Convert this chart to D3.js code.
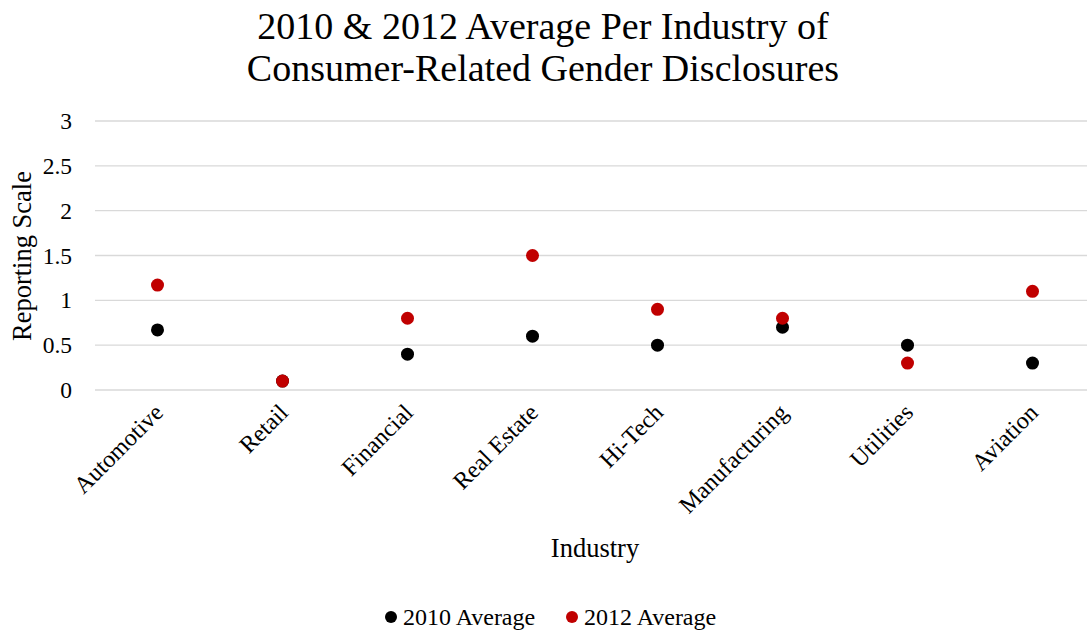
<!DOCTYPE html>
<html><head><meta charset="utf-8">
<script src="https://cdn.jsdelivr.net/npm/d3@7"></script>
<style>body{margin:0;background:#fff;} text{font-family:"Liberation Serif","Times New Roman",serif;fill:#000;}</style>
</head><body>
<svg id="c" width="1087" height="630"></svg>
<script>
const categories = ["Automotive","Retail","Financial","Real Estate","Hi-Tech","Manufacturing","Utilities","Aviation"];
const avg2010 = [0.67,0.1,0.4,0.6,0.5,0.7,0.5,0.3];
const avg2012 = [1.17,0.1,0.8,1.5,0.9,0.8,0.3,1.1];
const yTicks = [0,0.5,1,1.5,2,2.5,3];
const seriesNames = ["2010 Average","2012 Average"];
const colors = ["#000000","#c00000"];

const svg = d3.select("#c");
const x = d3.scaleBand().domain(categories).range([95,1095]);
const y = d3.scaleLinear().domain([0,3]).range([390,121]);

// title
const title = svg.append("text").attr("text-anchor","middle").style("font-size","38px");
title.append("tspan").attr("x",543).attr("y",39).text("2010 & 2012 Average Per Industry of");
title.append("tspan").attr("x",543).attr("y",81).text("Consumer-Related Gender Disclosures");

// gridlines
svg.append("g").selectAll("line").data(yTicks).join("line")
  .attr("x1",95).attr("x2",1087).attr("y1",d=>y(d)).attr("y2",d=>y(d))
  .attr("stroke","#d9d9d9").attr("stroke-width",1.3);

// y axis
const ya = svg.append("g").attr("transform","translate(80,0)")
  .call(d3.axisLeft(y).tickValues(yTicks).tickSize(0).tickPadding(8).tickFormat(d=>String(d)));
ya.select(".domain").remove();
ya.selectAll("text").style("font-size","23.5px").style("font-family","Liberation Serif, serif").attr("fill","#000");

// x axis
const xa = svg.append("g").attr("transform","translate(0,390)")
  .call(d3.axisBottom(x).tickSize(0).tickPadding(0));
xa.select(".domain").remove();
xa.selectAll("text").style("font-size","24px").style("font-family","Liberation Serif, serif").attr("fill","#000")
  .attr("text-anchor","end").attr("dy",null).attr("y",0)
  .attr("transform","translate(7,24) rotate(-45)");

// axis titles
svg.append("text").attr("x",595).attr("y",557).attr("text-anchor","middle").style("font-size","26.5px").text("Industry");
svg.append("text").attr("transform","translate(31,256) rotate(-90)").attr("text-anchor","middle").style("font-size","26.5px").text("Reporting Scale");

// points
[avg2010, avg2012].forEach((vals,i)=>{
  svg.append("g").selectAll("circle").data(vals).join("circle")
    .attr("cx",(d,j)=>x(categories[j])+x.bandwidth()/2)
    .attr("cy",d=>y(d)).attr("r",6.5).attr("fill",colors[i]);
});

// legend
const leg = [{x:391},{x:572}];
seriesNames.forEach((n,i)=>{
  svg.append("circle").attr("cx",leg[i].x).attr("cy",617).attr("r",6).attr("fill",colors[i]);
  svg.append("text").attr("x",leg[i].x+12).attr("y",625).style("font-size",  "24px").text(n);
});
</script>
</body></html>
